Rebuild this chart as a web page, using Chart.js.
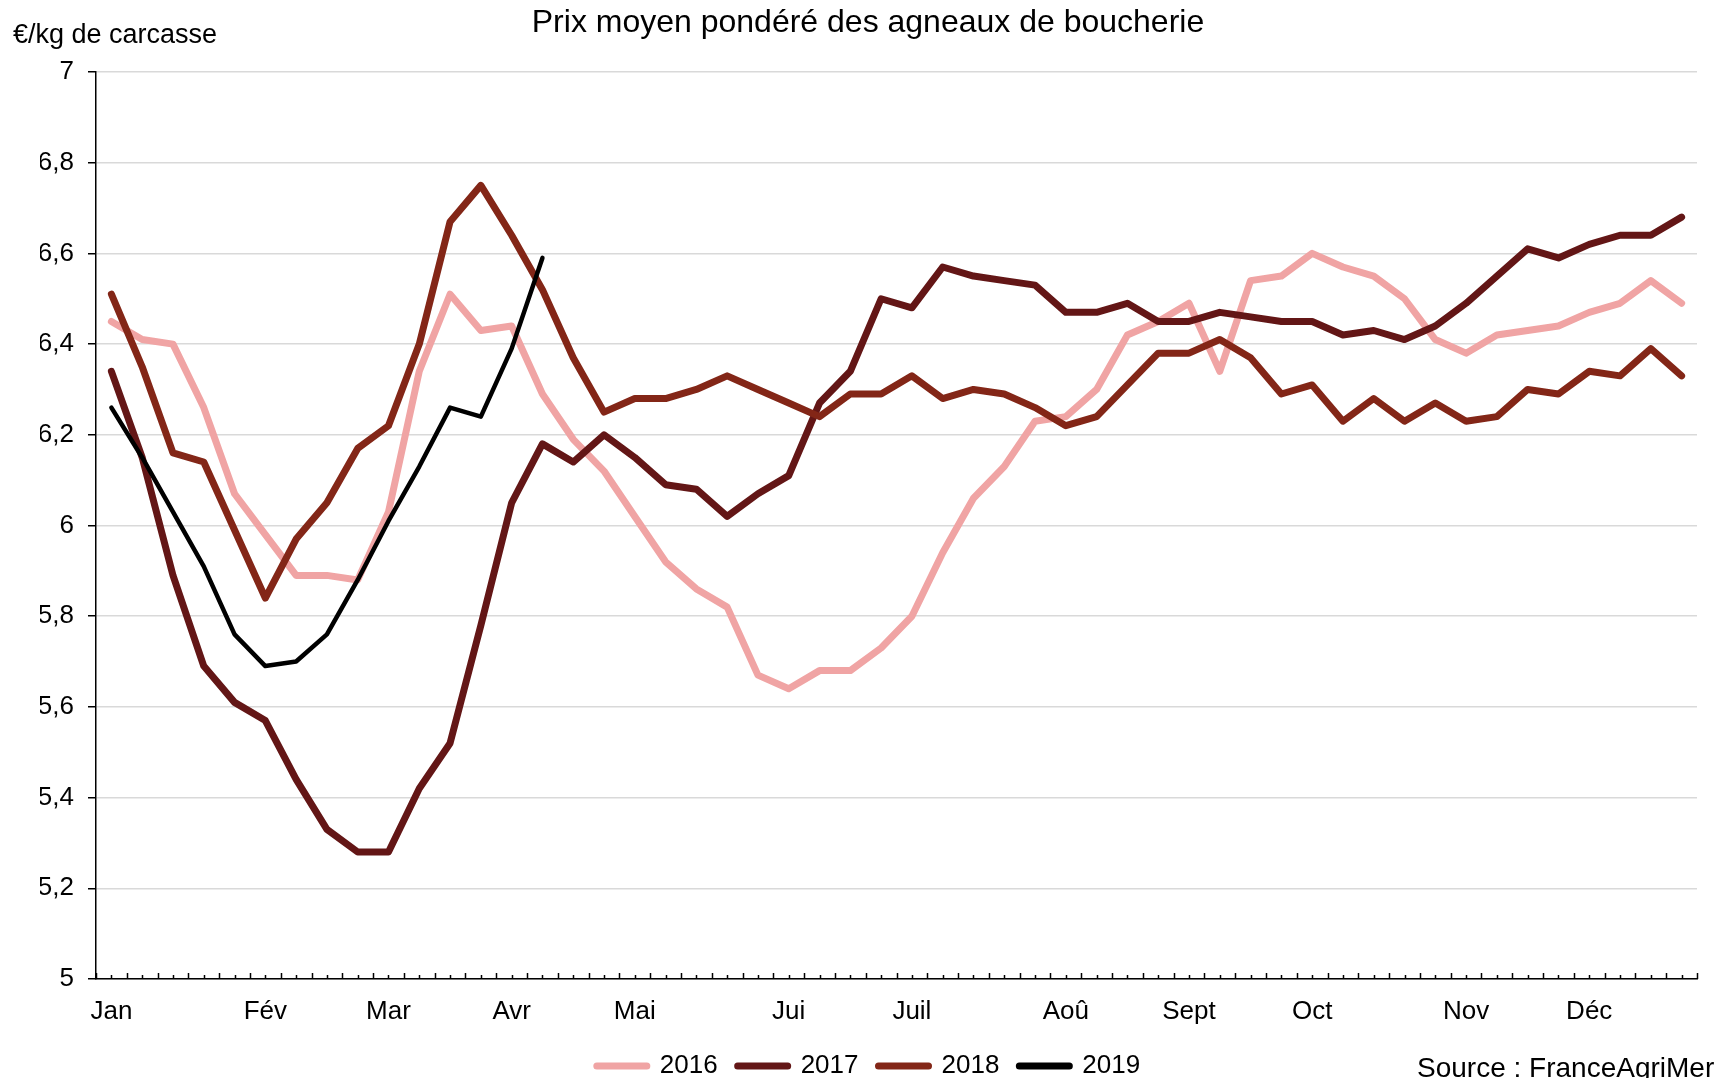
<!DOCTYPE html>
<html lang="fr">
<head>
<meta charset="utf-8">
<title>Prix moyen pondéré des agneaux de boucherie</title>
<script src="https://cdn.jsdelivr.net/npm/chart.js@4.4.1/dist/chart.umd.min.js"></script>
<style>
  html, body { margin: 0; padding: 0; background: #fff; }
  canvas { display: block; }
</style>
</head>
<body>
<canvas id="lambChart" width="1719" height="1078"></canvas>
<script>
// semaines de l'année (axe x)
const weeks = [1, 2, 3, 4, 5, 6, 7, 8, 9, 10, 11, 12, 13, 14, 15, 16, 17, 18, 19, 20, 21, 22, 23, 24, 25, 26,
    27, 28, 29, 30, 31, 32, 33, 34, 35, 36, 37, 38, 39, 40, 41, 42, 43, 44, 45, 46, 47, 48, 49, 50, 51, 52];
const monthWeeks = [1, 6, 10, 14, 18, 23, 27, 32, 36, 40, 45, 49];
const monthLabels = ['Jan', 'Fév', 'Mar', 'Avr', 'Mai', 'Jui', 'Juil', 'Aoû', 'Sept', 'Oct', 'Nov', 'Déc'];

// prix en €/kg de carcasse
const price2016 = [6.45, 6.41, 6.40, 6.26, 6.07, 5.98, 5.89, 5.89, 5.88, 6.03, 6.34, 6.51, 6.43, 6.44, 6.29, 6.19,
    6.12, 6.02, 5.92, 5.86, 5.82, 5.67, 5.64, 5.68, 5.68, 5.73, 5.80, 5.94, 6.06, 6.13, 6.23, 6.24, 6.30, 6.42,
    6.45, 6.49, 6.34, 6.54, 6.55, 6.60, 6.57, 6.55, 6.50, 6.41, 6.38, 6.42, 6.43, 6.44, 6.47, 6.49, 6.54, 6.49];
const price2017 = [6.34, 6.15, 5.89, 5.69, 5.61, 5.57, 5.44, 5.33, 5.28, 5.28, 5.42, 5.52, 5.78, 6.05, 6.18, 6.14,
    6.20, 6.15, 6.09, 6.08, 6.02, 6.07, 6.11, 6.27, 6.34, 6.50, 6.48, 6.57, 6.55, 6.54, 6.53, 6.47, 6.47, 6.49,
    6.45, 6.45, 6.47, 6.46, 6.45, 6.45, 6.42, 6.43, 6.41, 6.44, 6.49, 6.55, 6.61, 6.59, 6.62, 6.64, 6.64, 6.68];
const price2018 = [6.51, 6.35, 6.16, 6.14, 5.99, 5.84, 5.97, 6.05, 6.17, 6.22, 6.40, 6.67, 6.75, 6.64, 6.52, 6.37,
    6.25, 6.28, 6.28, 6.30, 6.33, 6.30, 6.27, 6.24, 6.29, 6.29, 6.33, 6.28, 6.30, 6.29, 6.26, 6.22, 6.24, 6.31,
    6.38, 6.38, 6.41, 6.37, 6.29, 6.31, 6.23, 6.28, 6.23, 6.27, 6.23, 6.24, 6.30, 6.29, 6.34, 6.33, 6.39, 6.33];
const price2019 = [6.26, 6.15, 6.03, 5.91, 5.76, 5.69, 5.70, 5.76, 5.88, 6.01, 6.13, 6.26, 6.24, 6.39, 6.59];

const seriesNames = ['2016', '2017', '2018', '2019'];
const seriesColors = ['#f0a4a4', '#631616', '#832617', '#000000'];

const chartTitle = 'Prix moyen pondéré des agneaux de boucherie';
const unitLabel = '€/kg de carcasse';
const sourceLabel = 'Source : FranceAgriMer';
const FONT = '"Liberation Sans", Arial, sans-serif';

Chart.defaults.font.family = FONT;
Chart.defaults.color = '#000';

function toPoints(values) {
    return values.map((v, i) => ({ x: weeks[i], y: v }));
}

function makeDataset(idx, values, width) {
    return {
        label: seriesNames[idx],
        data: toPoints(values),
        borderColor: seriesColors[idx],
        backgroundColor: seriesColors[idx],
        borderWidth: width,
        borderCapStyle: 'round',
        borderJoinStyle: 'round',
        pointRadius: 0,
        pointHoverRadius: 0,
        tension: 0,
        order: 4 - idx
    };
}

// petites graduations de l'axe x + textes hors zone de tracé
const decorations = {
    id: 'decorations',
    afterDraw(chart) {
        const { ctx, scales: { x } } = chart;
        const axisY = x.top;
        ctx.save();
        ctx.strokeStyle = '#000';
        ctx.lineWidth = 1.5;
        ctx.beginPath();
        for (let v = x.min; v <= x.max + 0.01; v += 0.5) {
            const px = Math.round(x.getPixelForValue(v)) + 0.5;
            const len = Number.isInteger(v) ? 4 : 6;
            ctx.moveTo(px, axisY);
            ctx.lineTo(px, axisY - len);
        }
        ctx.stroke();

        ctx.fillStyle = '#000';
        ctx.textBaseline = 'middle';
        ctx.textAlign = 'center';
        ctx.font = '32px ' + FONT;
        ctx.fillText(chartTitle, 868, 23);
        ctx.textAlign = 'left';
        ctx.font = '27px ' + FONT;
        ctx.fillText(unitLabel, 13, 36);
        ctx.font = '28px ' + FONT;
        ctx.fillText(sourceLabel, 1417, 1069);
        ctx.restore();
    }
};

const ctx = document.getElementById('lambChart').getContext('2d');
new Chart(ctx, {
    type: 'line',
    data: {
        datasets: [
            makeDataset(0, price2016, 7),
            makeDataset(1, price2017, 7),
            makeDataset(2, price2018, 7),
            makeDataset(3, price2019, 4.5)
        ]
    },
    options: {
        responsive: false,
        animation: false,
        layout: {
            padding: { top: 72, right: 22, bottom: 5, left: 40 }
        },
        plugins: {
            title: { display: false },
            tooltip: { enabled: false },
            legend: {
                position: 'bottom',
                maxHeight: 40,
                labels: {
                    usePointStyle: true,
                    pointStyle: 'line',
                    pointStyleWidth: 50,
                    boxHeight: 7,
                    padding: 20,
                    font: { size: 26 },
                    sort: (a, b) => a.datasetIndex - b.datasetIndex,
                    generateLabels: chart => Chart.defaults.plugins.legend.labels.generateLabels(chart)
                        .map(item => Object.assign(item, { lineWidth: 7, lineCap: 'round' }))
                }
            }
        },
        scales: {
            x: {
                type: 'linear',
                min: 0.5,
                max: 52.5,
                afterBuildTicks: scale => {
                    scale.ticks = monthWeeks.map(w => ({ value: w }));
                },
                afterFit: scale => { scale.height = 54; },
                ticks: {
                    autoSkip: false,
                    maxRotation: 0,
                    padding: 17,
                    font: { size: 26 },
                    callback: value => monthLabels[monthWeeks.indexOf(value)]
                },
                grid: { display: false, drawTicks: false },
                border: { color: '#000', width: 1.5 }
            },
            y: {
                min: 5,
                max: 7,
                afterFit: scale => { scale.width = 56; },
                ticks: {
                    stepSize: 0.2,
                    padding: 14,
                    font: { size: 26 },
                    callback: value => String(Number(value.toFixed(1))).replace('.', ',')
                },
                grid: {
                    color: '#d9d9d9',
                    lineWidth: 1.5,
                    tickLength: 8,
                    tickColor: '#000',
                    tickWidth: 1.5
                },
                border: { color: '#000', width: 1.5 }
            }
        }
    },
    plugins: [decorations]
});
</script>
</body>
</html>
